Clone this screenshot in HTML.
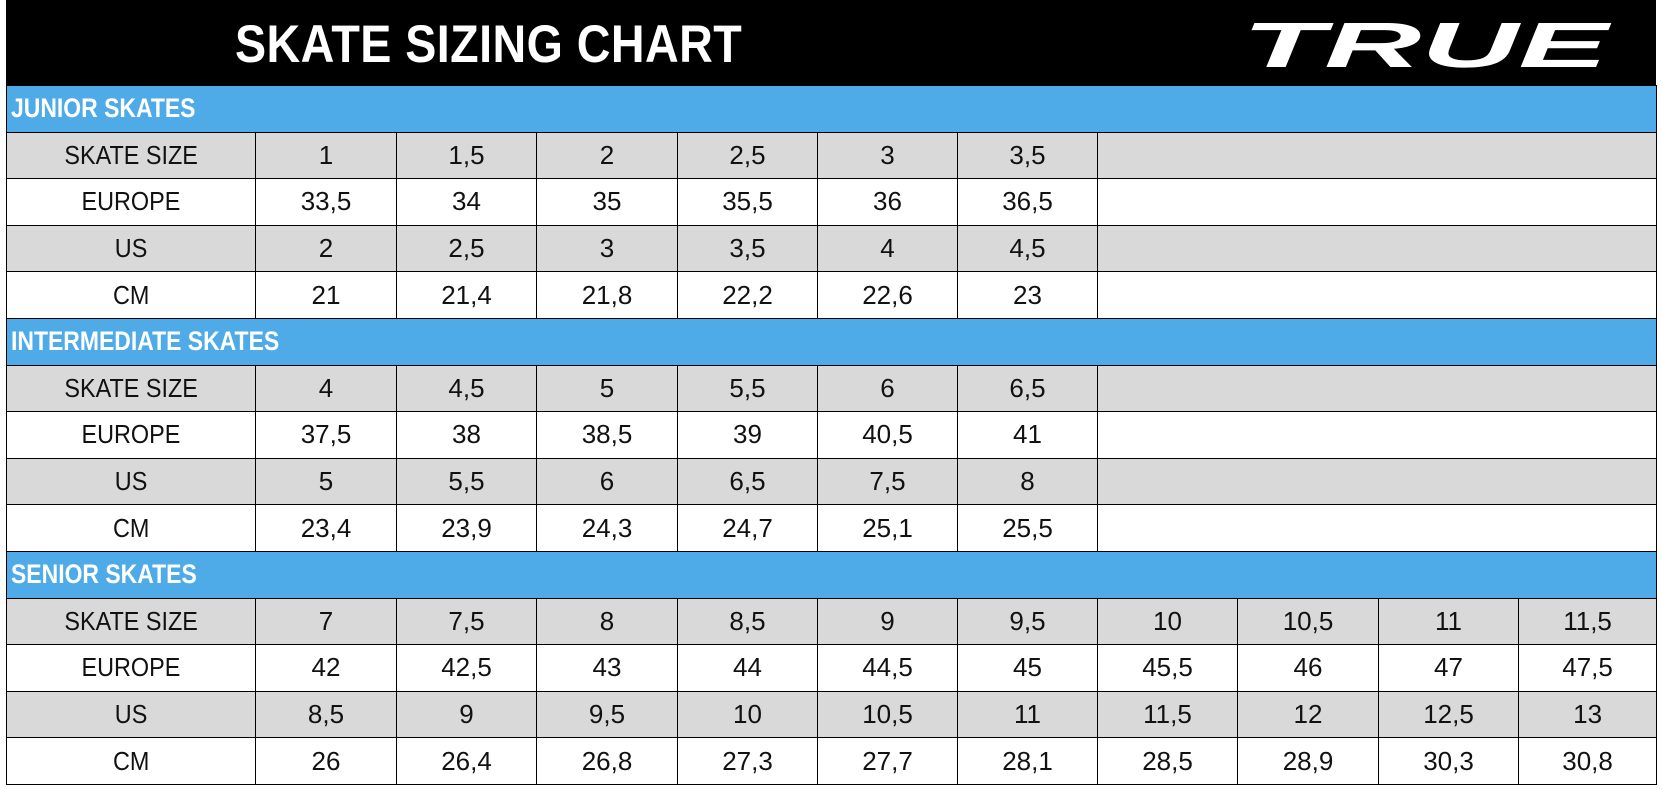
<!DOCTYPE html>
<html><head><meta charset="utf-8"><style>
html,body{margin:0;padding:0;background:#fff;width:1662px;height:790px;overflow:hidden;font-family:"Liberation Sans",sans-serif}
#wrap{position:absolute;left:6px;top:0;width:1650px;}
.hdr{height:85px;background:#000;position:relative}
.title{position:absolute;left:229px;top:14px;color:#fff;font-weight:bold;font-size:53px;transform:scaleX(0.88);transform-origin:left top;letter-spacing:0.5px;white-space:nowrap}
table{border-collapse:collapse;width:1650px;table-layout:fixed}
td{border:1.5px solid #000;height:45.6px;padding:0;text-align:center;font-size:26px;color:#111}
td.l span{display:inline-block;transform:scaleX(0.9)}
tr.g td{background:#d9d9d9}
tr.w td{background:#fff}
tr.b td{background:#4eabe8;color:#fff;font-weight:bold;text-align:left;font-size:27px;padding-left:4px}
tr.b td span{display:inline-block;transform:scaleX(0.85);transform-origin:left center}
td.e{background:#fff !important}
tr.g td.e{background:#d9d9d9 !important}
</style></head><body>
<div id="wrap">
<div class="hdr"><div class="title">SKATE SIZING CHART</div>
<svg style="position:absolute;left:1236px;top:8px" width="380" height="70"><text x="0" y="59" fill="#fff" font-family="Liberation Sans" font-weight="bold" font-style="italic" font-size="64" textLength="366" lengthAdjust="spacingAndGlyphs">TRUE</text></svg>
</div>
<table>
<colgroup><col style="width:249px"><col style="width:141px"><col style="width:140px"><col style="width:141px"><col style="width:140px"><col style="width:140px"><col style="width:140px"><col style="width:140px"><col style="width:141px"><col style="width:140px"><col style="width:138px"></colgroup>
<tr class="b"><td colspan="11"><span>JUNIOR SKATES</span></td></tr>
<tr class="g"><td class="l"><span>SKATE SIZE</span></td><td>1</td><td>1,5</td><td>2</td><td>2,5</td><td>3</td><td>3,5</td><td class="e" colspan="4"></td></tr>
<tr class="w"><td class="l"><span>EUROPE</span></td><td>33,5</td><td>34</td><td>35</td><td>35,5</td><td>36</td><td>36,5</td><td class="e" colspan="4"></td></tr>
<tr class="g"><td class="l"><span>US</span></td><td>2</td><td>2,5</td><td>3</td><td>3,5</td><td>4</td><td>4,5</td><td class="e" colspan="4"></td></tr>
<tr class="w"><td class="l"><span>CM</span></td><td>21</td><td>21,4</td><td>21,8</td><td>22,2</td><td>22,6</td><td>23</td><td class="e" colspan="4"></td></tr>
<tr class="b"><td colspan="11"><span>INTERMEDIATE SKATES</span></td></tr>
<tr class="g"><td class="l"><span>SKATE SIZE</span></td><td>4</td><td>4,5</td><td>5</td><td>5,5</td><td>6</td><td>6,5</td><td class="e" colspan="4"></td></tr>
<tr class="w"><td class="l"><span>EUROPE</span></td><td>37,5</td><td>38</td><td>38,5</td><td>39</td><td>40,5</td><td>41</td><td class="e" colspan="4"></td></tr>
<tr class="g"><td class="l"><span>US</span></td><td>5</td><td>5,5</td><td>6</td><td>6,5</td><td>7,5</td><td>8</td><td class="e" colspan="4"></td></tr>
<tr class="w"><td class="l"><span>CM</span></td><td>23,4</td><td>23,9</td><td>24,3</td><td>24,7</td><td>25,1</td><td>25,5</td><td class="e" colspan="4"></td></tr>
<tr class="b"><td colspan="11"><span>SENIOR SKATES</span></td></tr>
<tr class="g"><td class="l"><span>SKATE SIZE</span></td><td>7</td><td>7,5</td><td>8</td><td>8,5</td><td>9</td><td>9,5</td><td>10</td><td>10,5</td><td>11</td><td>11,5</td></tr>
<tr class="w"><td class="l"><span>EUROPE</span></td><td>42</td><td>42,5</td><td>43</td><td>44</td><td>44,5</td><td>45</td><td>45,5</td><td>46</td><td>47</td><td>47,5</td></tr>
<tr class="g"><td class="l"><span>US</span></td><td>8,5</td><td>9</td><td>9,5</td><td>10</td><td>10,5</td><td>11</td><td>11,5</td><td>12</td><td>12,5</td><td>13</td></tr>
<tr class="w"><td class="l"><span>CM</span></td><td>26</td><td>26,4</td><td>26,8</td><td>27,3</td><td>27,7</td><td>28,1</td><td>28,5</td><td>28,9</td><td>30,3</td><td>30,8</td></tr>
</table>
</div>
</body></html>
